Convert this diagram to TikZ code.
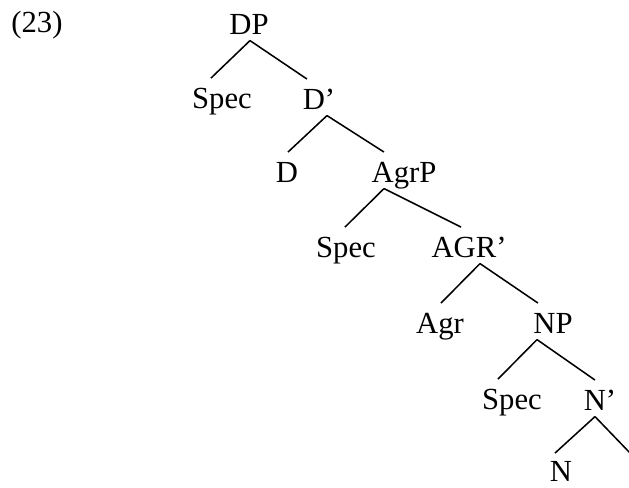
\documentclass[tikz,border=0pt]{standalone}
\usepackage{fontspec}
\setmainfont{Liberation Serif}
\usetikzlibrary{calc}
\begin{document}
\begin{tikzpicture}[x=0.75pt,y=-0.75pt,
  lbl/.style={anchor=base,inner sep=0pt,text height=23pt,text depth=4pt,font=\fontsize{23}{27}\selectfont},
  br/.style={line width=1.15pt}]
\useasboundingbox (0,0) rectangle (629,488);
\node[lbl] (ex) at (37,33) {(23)};
\node[lbl] (dp) at (249,35) {DP};
\node[lbl] (spec1) at (222,109) {Spec};
\node[lbl] (dbar) at (319,110) {D’};
\node[lbl] (d) at (287,183) {D};
\node[lbl] (agrp) at (404,183) {AgrP};
\node[lbl] (spec2) at (346,258) {Spec};
\node[lbl] (agrbar) at (469,258) {AGR’};
\node[lbl] (agr) at (440,334) {Agr};
\node[lbl] (np) at (553,334) {NP};
\node[lbl] (spec3) at (512,410) {Spec};
\node[lbl] (nbar) at (600,411) {N’};
\node[lbl,text depth=0pt] (n) at (561,482) {N};
\coordinate (nright) at (631,454);
\draw[br] ($(dp.south)+(1,0)$) -- ($(spec1.north)+(-11,0)$);
\draw[br] ($(dp.south)+(1,0)$) -- ($(dbar.north)+(-12,0)$);
\draw[br] ($(dbar.south)+(8,0)$) -- ($(d.north)+(1,0)$);
\draw[br] ($(dbar.south)+(8,0)$) -- ($(agrp.north)+(-20,0)$);
\draw[br] ($(agrp.south)+(-20,0)$) -- ($(spec2.north)+(-1,0)$);
\draw[br] ($(agrp.south)+(-20,0)$) -- ($(agrbar.north)+(-8,0)$);
\draw[br] ($(agrbar.south)+(11,0)$) -- ($(agr.north)+(1,0)$);
\draw[br] ($(agrbar.south)+(11,0)$) -- ($(np.north)+(-15,0)$);
\draw[br] ($(np.south)+(-16,0)$) -- ($(spec3.north)+(-14,0)$);
\draw[br] ($(np.south)+(-16,0)$) -- ($(nbar.north)+(-5,0)$);
\draw[br] ($(nbar.south)+(-5,0)$) -- ($(n.north)+(-6,2)$);
\draw[br] ($(nbar.south)+(-5,0)$) -- (nright);
\end{tikzpicture}
\end{document}
